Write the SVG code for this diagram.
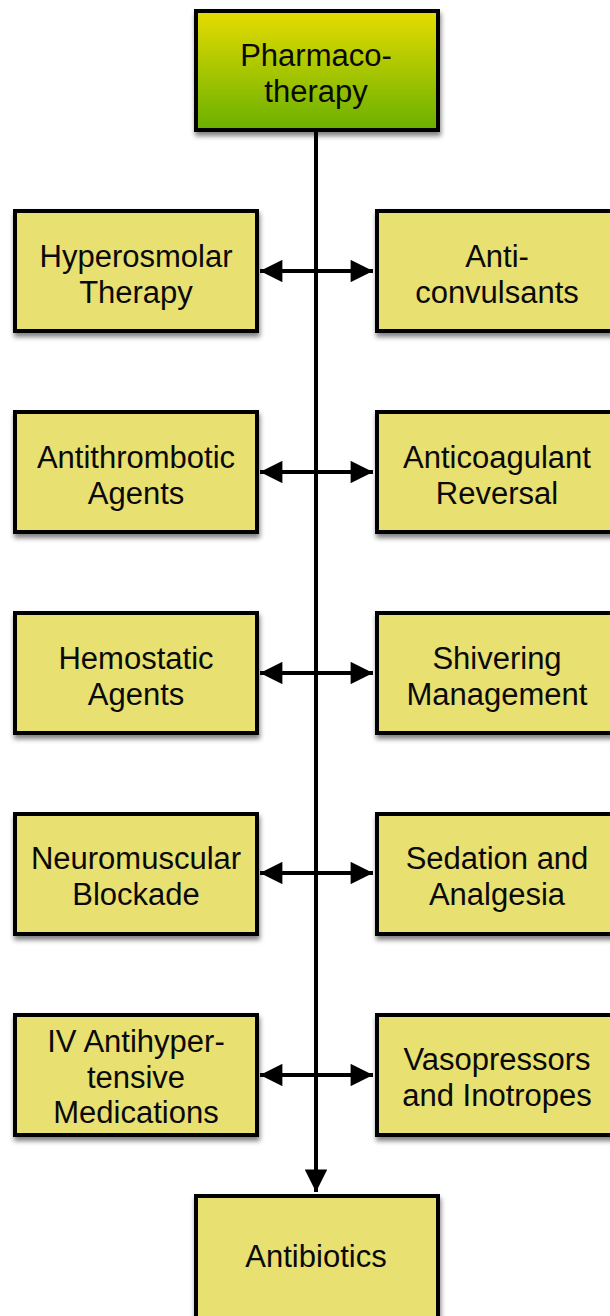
<svg xmlns="http://www.w3.org/2000/svg" width="610" height="1316" viewBox="0 0 610 1316">
<defs>
<linearGradient id="gtop" x1="0" y1="0" x2="0" y2="1">
<stop offset="0" stop-color="#E6DC00"/>
<stop offset="1" stop-color="#6AB000"/>
</linearGradient>
<filter id="sh" x="-10%" y="-10%" width="130%" height="130%">
<feGaussianBlur in="SourceAlpha" stdDeviation="2.5"/>
<feOffset dx="1" dy="4" result="b"/>
<feComponentTransfer><feFuncA type="linear" slope="0.5"/></feComponentTransfer>
<feMerge><feMergeNode/><feMergeNode in="SourceGraphic"/></feMerge>
</filter>
<marker id="ah" viewBox="0 0 10 10" refX="10" refY="5" markerWidth="7" markerHeight="5.6" markerUnits="strokeWidth" orient="auto-start-reverse">
<path d="M0,0 L10,5 L0,10 z" fill="#000"/>
</marker>
</defs>
<style>
.box{fill:#E8E070;stroke:#000;stroke-width:4;filter:url(#sh)}
.top{fill:url(#gtop);stroke:#000;stroke-width:4;filter:url(#sh)}
text{font-family:"Liberation Sans",Arial,sans-serif;font-size:31px;fill:#0a0a0a;text-anchor:middle}
.c{stroke:#000;stroke-width:4;fill:none}
</style>
<g id="connectors">
<line class="c" x1="316" y1="130" x2="316" y2="1192" marker-end="url(#ah)"/>
<line class="c" x1="260" y1="271" x2="373" y2="271" marker-start="url(#ah)" marker-end="url(#ah)"/>
<line class="c" x1="260" y1="472" x2="373" y2="472" marker-start="url(#ah)" marker-end="url(#ah)"/>
<line class="c" x1="260" y1="673" x2="373" y2="673" marker-start="url(#ah)" marker-end="url(#ah)"/>
<line class="c" x1="260" y1="873" x2="373" y2="873" marker-start="url(#ah)" marker-end="url(#ah)"/>
<line class="c" x1="260" y1="1075" x2="373" y2="1075" marker-start="url(#ah)" marker-end="url(#ah)"/>
</g>
<g id="pharmacotherapy">
<rect class="top" x="196" y="11" width="242" height="119"/>
<text x="316" y="66">Pharmaco-</text>
<text x="316" y="102">therapy</text>
</g>
<g id="hyperosmolar">
<rect class="box" x="15" y="211" width="242" height="120"/>
<text x="136" y="267">Hyperosmolar</text>
<text x="136" y="303">Therapy</text>
</g>
<g id="anticonvulsants">
<rect class="box" x="377" y="211" width="242" height="120"/>
<text x="497" y="267">Anti-</text>
<text x="497" y="303">convulsants</text>
</g>
<g id="antithrombotic">
<rect class="box" x="15" y="412" width="242" height="120"/>
<text x="136" y="468">Antithrombotic</text>
<text x="136" y="504">Agents</text>
</g>
<g id="anticoagulant">
<rect class="box" x="377" y="412" width="242" height="120"/>
<text x="497" y="468">Anticoagulant</text>
<text x="497" y="504">Reversal</text>
</g>
<g id="hemostatic">
<rect class="box" x="15" y="613" width="242" height="120"/>
<text x="136" y="669">Hemostatic</text>
<text x="136" y="705">Agents</text>
</g>
<g id="shivering">
<rect class="box" x="377" y="613" width="242" height="120"/>
<text x="497" y="669">Shivering</text>
<text x="497" y="705">Management</text>
</g>
<g id="neuromuscular">
<rect class="box" x="15" y="814" width="242" height="120"/>
<text x="136" y="869">Neuromuscular</text>
<text x="136" y="905">Blockade</text>
</g>
<g id="sedation">
<rect class="box" x="377" y="814" width="242" height="120"/>
<text x="497" y="869">Sedation and</text>
<text x="497" y="905">Analgesia</text>
</g>
<g id="antihypertensive">
<rect class="box" x="15" y="1015" width="242" height="120"/>
<text x="136" y="1052">IV Antihyper-</text>
<text x="136" y="1088">tensive</text>
<text x="136" y="1123">Medications</text>
</g>
<g id="vasopressors">
<rect class="box" x="377" y="1015" width="242" height="120"/>
<text x="497" y="1070">Vasopressors</text>
<text x="497" y="1106">and Inotropes</text>
</g>
<g id="antibiotics">
<rect class="box" x="196" y="1196" width="242" height="122"/>
<text x="316" y="1267">Antibiotics</text>
</g>
</svg>
